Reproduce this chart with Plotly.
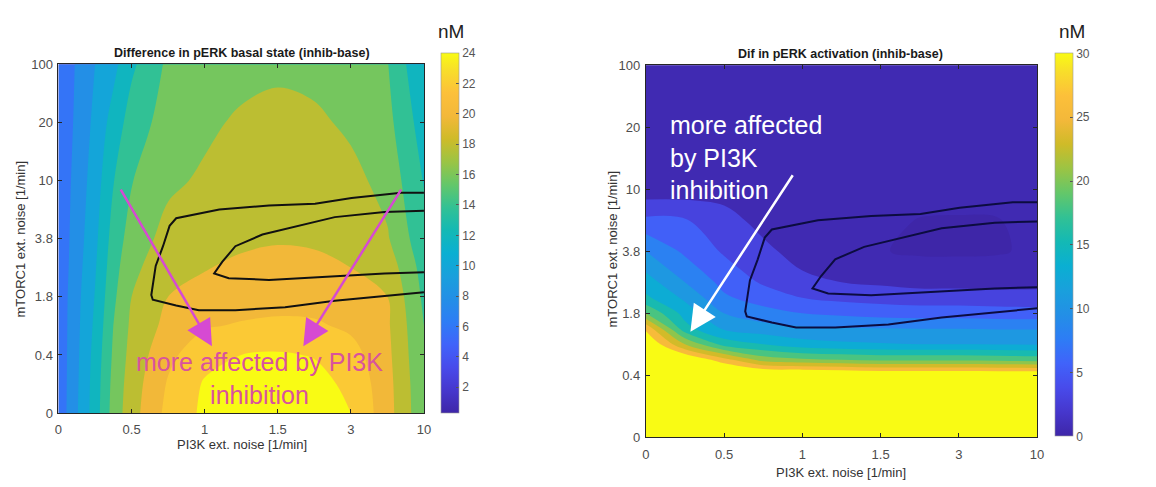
import plotly.graph_objects as go

W, H = 1156, 487

# ---------------- data ----------------
x_ticktext = ['0', '0.5', '1', '1.5', '3', '10']
y_ticktext = ['0', '0.4', '1.8', '3.8', '10', '20', '100']

# left panel: difference in pERK basal state (grid in tick-index units)
basal_x = [0, 0.25, 0.5, 0.75, 1, 1.5, 2, 2.5, 3, 3.5, 4, 4.5, 5]
basal_y = [0, 0.5, 1, 1.5, 2, 2.5, 3, 4, 5, 6]
basal_z = [
    [5.6, 8.8, 12.0, 15.8, 18.2, 21.6, 23.4, 24.0, 24.2, 24.0, 23.0, 19.8, 15.5],
    [5.6, 8.7, 11.9, 15.6, 18.0, 21.2, 23.2, 23.7, 23.8, 23.6, 22.6, 19.7, 15.4],
    [5.6, 8.6, 11.7, 15.3, 17.7, 20.5, 22.3, 23.0, 23.2, 22.9, 21.8, 19.5, 15.2],
    [5.6, 8.5, 11.4, 15.0, 17.4, 19.6, 20.8, 21.2, 21.4, 21.3, 20.6, 19.3, 15.0],
    [5.6, 8.4, 11.1, 14.6, 17.0, 19.0, 19.6, 20.0, 20.2, 20.1, 19.6, 19.0, 14.6],
    [5.5, 8.2, 10.8, 14.2, 16.5, 18.3, 18.9, 19.4, 19.7, 19.5, 19.0, 18.2, 14.2],
    [5.5, 8.0, 10.5, 13.8, 15.9, 17.7, 18.3, 18.6, 18.8, 18.7, 18.4, 17.2, 13.6],
    [5.5, 7.7, 10.0, 12.9, 14.9, 16.6, 17.3, 17.8, 18.0, 17.9, 17.6, 16.3, 12.9],
    [5.4, 7.4, 9.5, 11.8, 13.9, 15.9, 16.6, 17.3, 17.6, 17.4, 16.6, 15.6, 12.0],
    [5.4, 7.2, 9.0, 10.4, 12.6, 15.4, 15.9, 16.3, 16.6, 16.3, 15.8, 15.1, 11.0],
]

# right panel: difference in pERK activation
act_x = [0, 0.5, 1, 1.5, 2, 2.5, 3, 3.5, 4, 4.5, 5]
act_y = [0, 0.5, 1, 1.25, 1.5, 1.75, 2, 2.25, 2.5, 3, 3.5, 4, 5, 6]
act_z = [
    [38, 38, 37, 37, 37, 36, 36, 36, 36, 36, 36],
    [37, 37, 36, 36, 36, 35, 35, 35, 35, 35, 35],
    [35, 34, 33, 32, 32, 31.5, 31, 31, 31, 31, 31],
    [33, 31, 26.5, 22, 21, 20.5, 20, 20, 20, 19.8, 19.5],
    [31, 23, 17, 15.5, 14, 13.5, 13.2, 13, 13, 12.9, 12.8],
    [27.5, 16.5, 12.7, 11.6, 11, 10.7, 10.6, 10.5, 10.5, 10.4, 10.4],
    [20.5, 14.5, 10.5, 9.0, 8, 7.5, 7.0, 6.8, 6.8, 6.6, 6.5],
    [16, 12.5, 8.4, 6.8, 5.5, 4.8, 4.5, 4.2, 4.2, 4.1, 4.0],
    [14.2, 10.5, 7.2, 5.2, 3.6, 3.0, 2.6, 2.2, 2.2, 2.0, 2.2],
    [10.5, 7.5, 5.2, 3.6, 2.0, 1.4, 0.6, 0.2, 0.15, 0.3, 0.9],
    [6.0, 5.7, 3.9, 2.2, 1.5, 1.1, 0.8, 0.45, 0.4, 0.45, 0.9],
    [1.5, 1.6, 2.0, 1.5, 1.3, 1.2, 1.1, 1.0, 1.0, 1.0, 1.0],
    [1.0, 1.0, 1.0, 1.0, 1.0, 1.0, 1.0, 1.0, 1.0, 1.0, 1.0],
    [1.0, 1.0, 1.0, 1.0, 1.0, 1.0, 1.0, 1.0, 1.0, 1.0, 1.0],
]

# overlay contour (same region drawn on both panels)
outer_x = [5.0, 4.69, 4.01, 3.65, 3.51, 2.88, 2.2, 1.61, 1.52, 1.43, 1.33, 1.27, 1.29, 1.61, 1.92, 2.42, 3.1, 3.78, 4.46, 5.0]
outer_y = [3.79, 3.79, 3.70, 3.63, 3.6, 3.57, 3.5, 3.35, 3.22, 2.87, 2.53, 2.03, 1.95, 1.85, 1.77, 1.77, 1.82, 1.93, 2.02, 2.08]
inner_x = [5.0, 4.46, 3.78, 3.24, 2.79, 2.42, 2.24, 2.13, 2.33, 2.88, 3.78, 4.46, 5.0]
inner_y = [3.48, 3.46, 3.37, 3.2, 3.07, 2.87, 2.6, 2.4, 2.32, 2.29, 2.35, 2.4, 2.42]

basal_cbar_ticks = [2, 4, 6, 8, 10, 12, 14, 16, 18, 20, 22, 24]
act_cbar_ticks = [0, 5, 10, 15, 20, 25, 30]

# ---------------- colours ----------------
PARULA = [
    (0.000, (62, 38, 168)), (0.063, (70, 55, 205)), (0.127, (72, 75, 235)),
    (0.190, (64, 99, 250)), (0.254, (45, 125, 245)), (0.317, (35, 143, 230)),
    (0.381, (25, 160, 220)), (0.444, (10, 175, 210)), (0.508, (20, 185, 180)),
    (0.571, (50, 193, 148)), (0.635, (100, 199, 105)), (0.698, (155, 196, 68)),
    (0.762, (207, 187, 40)), (0.825, (243, 184, 58)), (0.889, (252, 192, 58)),
    (0.952, (248, 222, 42)), (1.000, (249, 251, 20)),
]


def parula(t):
    t = min(1.0, max(0.0, t))
    for (t0, c0), (t1, c1) in zip(PARULA[:-1], PARULA[1:]):
        if t <= t1:
            f = (t - t0) / (t1 - t0) if t1 > t0 else 0
            return 'rgb(%d,%d,%d)' % tuple(round(a + (b - a) * f) for a, b in zip(c0, c1))
    return 'rgb(%d,%d,%d)' % PARULA[-1][1]


PARULA_CS = [[t, 'rgb(%d,%d,%d)' % c] for t, c in PARULA]


def band_scale(start, size, end, cmin, cmax, mid):
    """Colour of each filled band (plotly maps band k to (k+1)/n)."""
    n = int(round((end - start) / size)) + 1
    stops = [[0.0, parula(0.0)]]
    for k in range(n):
        lev = start + k * size + mid * size
        t = 1.0 if k == n - 1 else (lev - cmin) / (cmax - cmin)
        stops.append([(k + 1) / n, parula(t)])
    return stops


def X(px):
    return px / W


def Y(py):
    return 1 - py / H


FONT = 'Liberation Sans, Arial, Helvetica, sans-serif'

fig = go.Figure()

# left contourf
fig.add_trace(go.Contour(
    x=basal_x, y=basal_y, z=basal_z, xaxis='x', yaxis='y',
    contours=dict(start=5, end=23, size=2, coloring='fill', showlines=False),
    autocontour=False, line=dict(width=0),
    colorscale=band_scale(5, 2, 23, 0.3, 24, 0.4), showscale=False, hoverinfo='skip'))

# right contourf
fig.add_trace(go.Contour(
    x=act_x, y=act_y, z=act_z, xaxis='x2', yaxis='y2',
    contours=dict(start=0.5, end=28, size=2.5, coloring='fill', showlines=False),
    autocontour=False, line=dict(width=0),
    colorscale=band_scale(0.5, 2.5, 28, 0, 30, 0.0), showscale=False, hoverinfo='skip'))

# overlay contour lines
for xa, ya, col in [('x', 'y', '#111111'), ('x2', 'y2', '#0c0c40')]:
    for cx, cy in [(outer_x, outer_y), (inner_x, inner_y)]:
        fig.add_trace(go.Scatter(x=cx, y=cy, xaxis=xa, yaxis=ya, mode='lines',
                                 line=dict(color=col, width=2), hoverinfo='skip'))

# colorbars (continuous parula)
cb_common = dict(thickness=18, thicknessmode='pixels', lenmode='pixels',
                 xanchor='left', yanchor='bottom', xpad=0, ypad=0,
                 ticks='inside', ticklen=3, tickcolor='#555555',
                 outlinewidth=0.6, outlinecolor='#999999',
                 tickfont=dict(family=FONT, size=12, color='#555555'))
fig.add_trace(go.Scatter(
    x=[0], y=[0], xaxis='x', yaxis='y', mode='markers', hoverinfo='skip',
    marker=dict(size=0, opacity=0, color=[0.3], cmin=0.3, cmax=24, colorscale=PARULA_CS,
                showscale=True,
                colorbar=dict(x=X(441), y=Y(419), len=360, tickvals=basal_cbar_ticks, **cb_common))))
fig.add_trace(go.Scatter(
    x=[0], y=[0], xaxis='x2', yaxis='y2', mode='markers', hoverinfo='skip',
    marker=dict(size=0, opacity=0, color=[0], cmin=0, cmax=30, colorscale=PARULA_CS,
                showscale=True,
                colorbar=dict(x=X(1061), y=Y(443), len=383, tickvals=act_cbar_ticks, **cb_common))))

ax_common = dict(showline=True, linecolor='#262626', linewidth=1, mirror='ticks',
                 ticks='inside', ticklen=4, tickcolor='#262626', showgrid=False,
                 zeroline=False, tickfont=dict(family=FONT, size=13, color='#4d4d4d'))

fig.update_layout(
    width=W, height=H, margin=dict(l=0, r=0, t=0, b=0),
    paper_bgcolor='white', plot_bgcolor='white', showlegend=False,
    font=dict(family=FONT),
    xaxis=dict(domain=[X(55), X(424)], range=[0, 5], tickvals=list(range(6)),
               ticktext=x_ticktext, anchor='y', ticklabelstandoff=4, **ax_common),
    yaxis=dict(domain=[Y(419), Y(59)], range=[0, 6], tickvals=list(range(7)),
               ticktext=y_ticktext, anchor='x', ticklabelstandoff=2, **ax_common),
    xaxis2=dict(domain=[X(648), X(1043)], range=[0, 5], tickvals=list(range(6)),
                ticktext=x_ticktext, anchor='y2', ticklabelstandoff=5, **ax_common),
    yaxis2=dict(domain=[Y(444), Y(60)], range=[0, 6], tickvals=list(range(7)),
                ticktext=y_ticktext, anchor='x2', ticklabelstandoff=2, **ax_common),
)

ann = []
# titles
ann.append(dict(text='<b>Difference in pERK basal state (inhib-base)</b>', x=X(240), y=Y(47),
                font=dict(size=12.5, color='#1a1a1a')))
ann.append(dict(text='<b>Dif in pERK activation (inhib-base)</b>', x=X(845), y=Y(48),
                font=dict(size=12.5, color='#1a1a1a')))
# units
ann.append(dict(text='nM', x=X(451), y=Y(25), font=dict(size=19, color='#222222')))
ann.append(dict(text='nM', x=X(1078), y=Y(25), font=dict(size=19, color='#222222')))
# axis titles
ann.append(dict(text='PI3K ext. noise [1/min]', x=X(240), y=Y(451), font=dict(size=13, color='#333333')))
ann.append(dict(text='PI3K ext. noise [1/min]', x=X(845), y=Y(480), font=dict(size=13, color='#333333')))
ann.append(dict(text='mTORC1 ext. noise [1/min]', x=X(17), y=Y(239), textangle=-90,
                font=dict(size=13, color='#333333')))
ann.append(dict(text='mTORC1 ext. noise [1/min]', x=X(614), y=Y(250), textangle=-90,
                font=dict(size=13, color='#333333')))
# in-plot labels
ann.append(dict(text='more affected by PI3K<br>inhibition', x=X(258), y=Y(383), align='center',
                font=dict(size=25, color='#d9539d')))
ann.append(dict(text='more affected<br>by PI3K<br>inhibition', x=X(670), y=Y(155), xanchor='left',
                align='left', font=dict(size=25, color='white')))
for a in ann:
    a.setdefault('xref', 'paper')
    a.setdefault('yref', 'paper')
    a.setdefault('showarrow', False)
    a.setdefault('xanchor', 'center')
    a.setdefault('yanchor', 'middle')
    a['font'].setdefault('family', FONT)

# arrows (head, tail) in axis units
arrows = [
    ('x', 'y', (2.1, 1.15), (0.84, 3.87), '#d64ad2'),
    ('x', 'y', (3.35, 1.15), (4.70, 3.87), '#d64ad2'),
    ('x2', 'y2', (0.57, 1.70), (1.89, 4.25), 'white'),
]
for xa, ya, head, tail, col in arrows:
    ann.append(dict(xref=xa, yref=ya, axref=xa, ayref=ya, x=head[0], y=head[1],
                    ax=tail[0], ay=tail[1], text='', showarrow=True, arrowhead=2,
                    arrowsize=2.1, arrowwidth=2.5, arrowcolor=col, standoff=0))

fig.update_layout(annotations=ann)
fig.write_html('out.html')
